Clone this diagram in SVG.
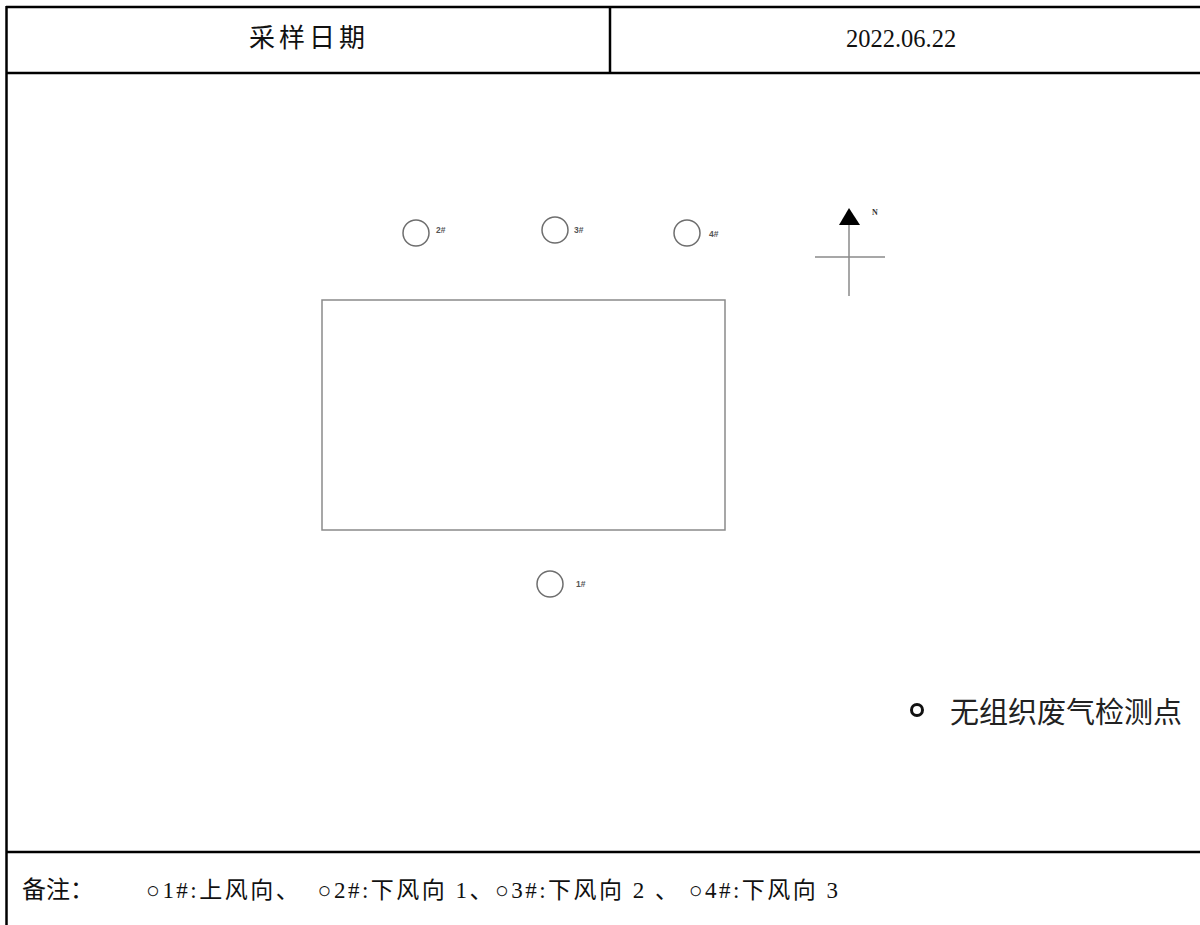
<svg xmlns="http://www.w3.org/2000/svg" width="1200" height="925" viewBox="0 0 1200 925">
<style>
.frame{stroke:#000;stroke-width:2.5;fill:none}
.map{stroke:#8a8a8a;stroke-width:1.5;fill:none}
.pt{stroke:#6e6e6e;stroke-width:1.5;fill:#fff}
.lbl{font-family:"Liberation Sans","Noto Sans CJK SC",sans-serif;font-size:8.5px;font-weight:bold;fill:#555}
.txt{font-family:"Liberation Serif","Noto Sans CJK SC",serif;fill:#111}
.leg{font-family:"Noto Sans CJK SC",sans-serif;font-size:29px;fill:#222}
</style>
<rect width="1200" height="925" fill="#fff"/>
<g id="table">
<line class="frame" x1="6" y1="7" x2="1200" y2="7"/>
<line class="frame" x1="6" y1="73" x2="1200" y2="73"/>
<line class="frame" x1="6" y1="852" x2="1200" y2="852"/>
<line class="frame" x1="6.5" y1="6" x2="6.5" y2="925"/>
<line class="frame" x1="610" y1="7" x2="610" y2="73"/>
</g>
<g id="header">
<text class="txt" x="249" y="47" font-size="26" textLength="116" lengthAdjust="spacing">采样日期</text>
<text class="txt" x="901" y="47" font-size="24.5" text-anchor="middle">2022.06.22</text>
</g>
<g id="plant"><rect class="map" x="322" y="300" width="403" height="230"/></g>
<g id="p1"><circle class="pt" cx="550" cy="584" r="13"/><text class="lbl" x="576" y="587">1#</text></g>
<g id="p2"><circle class="pt" cx="416" cy="233" r="13"/><text class="lbl" x="436" y="233">2#</text></g>
<g id="p3"><circle class="pt" cx="555" cy="230" r="13"/><text class="lbl" x="574" y="233">3#</text></g>
<g id="p4"><circle class="pt" cx="687" cy="233" r="13"/><text class="lbl" x="709" y="237">4#</text></g>
<g id="compass">
<line class="map" x1="849" y1="222" x2="849" y2="296"/>
<line class="map" x1="815" y1="257" x2="885" y2="257"/>
<polygon points="849,208 839,225 860,225" fill="#000"/>
<text x="872" y="215" font-family="Liberation Serif,serif" font-size="8" font-weight="bold" fill="#333">N</text>
</g>
<g id="legend">
<circle cx="917" cy="710" r="5.5" fill="none" stroke="#111" stroke-width="3"/>
<text class="leg" x="950" y="723">无组织废气检测点</text>
</g>
<g id="note" class="txt" font-size="23">
<text x="22" y="898" font-size="24">备注：</text>
<text x="146" y="898" textLength="692" lengthAdjust="spacing" xml:space="preserve">○1#:上风向、  ○2#:下风向 1、○3#:下风向 2 、 ○4#:下风向 3</text>
</g>
</svg>
